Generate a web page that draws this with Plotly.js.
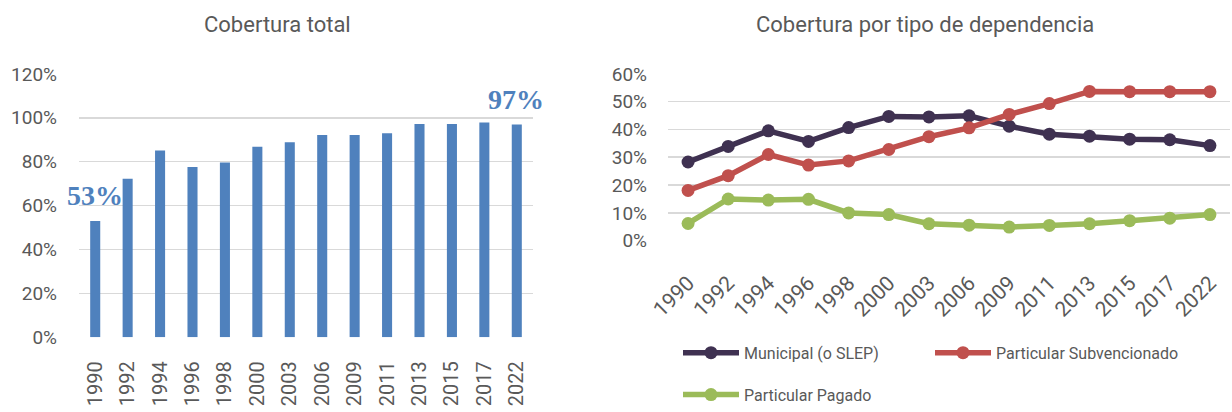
<!DOCTYPE html>
<html>
<head>
<meta charset="utf-8">
<script src="https://cdn.plot.ly/plotly-3.0.1.min.js"></script>
<style>html,body{margin:0;padding:0;background:#fff;}#chart{width:1232px;height:412px;}</style>
</head>
<body>
<div id="chart"></div>
<script>
// ---- data ----
const years = ["1990","1992","1994","1996","1998","2000","2003","2006","2009","2011","2013","2015","2017","2022"];
const coberturaTotal = [53, 72.2, 85.1, 77.6, 79.6, 86.8, 88.9, 92.2, 92.2, 93.0, 97.2, 97.2, 97.8, 96.9];
const municipal      = [28.3, 33.9, 39.5, 35.7, 40.7, 44.7, 44.5, 44.9, 41.2, 38.3, 37.6, 36.5, 36.3, 34.2];
const subvencionado  = [18.1, 23.4, 31.0, 27.2, 28.7, 32.8, 37.4, 40.6, 45.4, 49.3, 53.7, 53.6, 53.6, 53.6];
const pagado         = [6.2, 15.0, 14.6, 14.9, 10.0, 9.4, 6.1, 5.6, 4.9, 5.5, 6.1, 7.2, 8.1, 9.4];
const seriesNames = ["Municipal (o SLEP)", "Particular Subvencionado", "Particular Pagado"];
const titles = ["Cobertura total", "Cobertura por tipo de dependencia"];
const labelFirst = "53%";
const labelLast = "97%";

const W = 1232, H = 412;
const px = v => v / W;
const py = v => (H - v) / H;
const sans = "Roboto, 'DejaVu Sans Condensed', sans-serif";
const grey = "#595959";

const traces = [
  {type:"bar", x:years, y:coberturaTotal, xaxis:"x", yaxis:"y", marker:{color:"#4F81BD"}, showlegend:false, hoverinfo:"x+y"},
  {type:"scatter", mode:"lines+markers", x:years, y:municipal, xaxis:"x2", yaxis:"y2", name:seriesNames[0],
   line:{color:"#3F3151", width:5.5}, marker:{color:"#3F3151", size:13}, legend:"legend"},
  {type:"scatter", mode:"lines+markers", x:years, y:subvencionado, xaxis:"x2", yaxis:"y2", name:seriesNames[1],
   line:{color:"#C0504D", width:5.5}, marker:{color:"#C0504D", size:13}, legend:"legend"},
  {type:"scatter", mode:"lines+markers", x:years, y:pagado, xaxis:"x2", yaxis:"y2", name:seriesNames[2],
   line:{color:"#9BBB59", width:5.5}, marker:{color:"#9BBB59", size:13}, legend:"legend2"}
];

const gridCol = "#D9D9D9";
const layout = {
  width:W, height:H, autosize:false,
  margin:{l:0,r:0,t:0,b:0,pad:0},
  paper_bgcolor:"#fff", plot_bgcolor:"#fff",
  bargap:0.69,
  font:{family:sans, color:grey, size:19},
  xaxis:{domain:[px(79), px(533)], type:"category", range:[-0.5,13.5], tickangle:-90, showgrid:false, zeroline:false, showline:false,
         ticks:"", tickfont:{family:sans, size:20, color:grey}, ticklabelstandoff:19, fixedrange:true},
  yaxis:{domain:[py(345.7), py(75.7)], range:[0,120], dtick:20, ticksuffix:"%", showgrid:true, gridcolor:gridCol, gridwidth:1.6,
         zeroline:false, showline:false, ticks:"", tickfont:{family:sans, size:19, color:grey}, ticklabelstandoff:21, fixedrange:true},
  xaxis2:{domain:[px(668), px(1230)], type:"category", range:[-0.5,13.5], tickangle:-45, showgrid:false, zeroline:false, showline:false,
          ticks:"", tickfont:{family:sans, size:21, color:grey}, ticklabelstandoff:25, anchor:"y2", fixedrange:true},
  yaxis2:{domain:[py(246.7), py(75.7)], range:[0,60], dtick:10, ticksuffix:"%", showgrid:true, gridcolor:gridCol, gridwidth:1.6,
          zeroline:false, showline:false, ticks:"", tickfont:{family:sans, size:19, color:grey}, ticklabelstandoff:20, anchor:"x2", fixedrange:true},
  legend:{orientation:"h", x:px(678), xanchor:"left", y:py(361.5), yanchor:"middle", entrywidth:181, entrywidthmode:"pixels",
          itemwidth:56, font:{family:sans, size:16, color:grey}, bgcolor:"rgba(0,0,0,0)", traceorder:"normal"},
  legend2:{orientation:"h", x:px(678), xanchor:"left", y:py(404.5), yanchor:"middle", itemwidth:56,
          font:{family:sans, size:16, color:grey}, bgcolor:"rgba(0,0,0,0)"},
  annotations:[
    {text:titles[0], xref:"paper", yref:"paper", x:px(277), y:py(25), xanchor:"center", yanchor:"middle", showarrow:false,
     font:{family:sans, size:22, color:grey}},
    {text:titles[1], xref:"paper", yref:"paper", x:px(925), y:py(25), xanchor:"center", yanchor:"middle", showarrow:false,
     font:{family:sans, size:22, color:grey}},
    {text:"<b>"+labelFirst+"</b>", xref:"paper", yref:"paper", x:px(95), y:py(200), xanchor:"center", yanchor:"middle", showarrow:false,
     font:{family:"'Liberation Serif', 'DejaVu Serif', serif", size:28, color:"#4F81BD"}},
    {text:"<b>"+labelLast+"</b>", xref:"paper", yref:"paper", x:px(516.3), y:py(101.7), xanchor:"center", yanchor:"middle", showarrow:false,
     font:{family:"'Liberation Serif', 'DejaVu Serif', serif", size:28, color:"#4F81BD"}}
  ]
};

Plotly.newPlot("chart", traces, layout, {displayModeBar:false, staticPlot:true});
</script>
</body>
</html>
